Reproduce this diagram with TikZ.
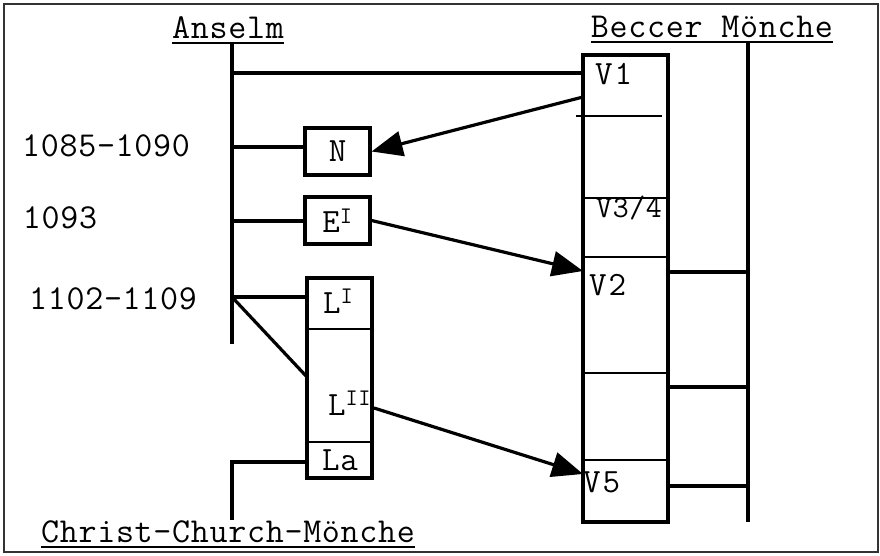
\documentclass[tikz,border=0pt]{standalone}
\usepackage{fontspec}
\setmainfont{Latin Modern Mono}[LetterSpace=2]
\usetikzlibrary{arrows.meta,calc}
\begin{document}
\begin{tikzpicture}[x=1pt,y=-1pt,
 thickline/.style={line width=3.2pt},
 thinline/.style={line width=1.6pt},
 lab/.style={font=\fontsize{35}{38}\selectfont, inner sep=0pt, anchor=base},
 inlab/.style={font=\fontsize{34}{36}\selectfont, inner sep=0pt, anchor=base west},
 boxed/.style={draw, line width=3.2pt, inner sep=0pt, minimum width=65pt, minimum height=47pt, font=\fontsize{34}{36}\selectfont},
 arr/.style={line width=3.2pt, -{Triangle[length=31pt,width=25pt]}},
]
\useasboundingbox (0,0) rectangle (880,556);
\draw[line width=1.6pt, black!80] (4,4) rectangle (878,552);

% headings
\node[lab] (anselm) at (228,39) {Anselm};
\node[lab] (beccer) at (712,38) {Beccer Mönche};
\node[lab] (christ) at (228,542) {Christ-Church-Mönche};
\draw[thinline] ([yshift=-4pt]anselm.base west) -- ([yshift=-4pt]anselm.base east);
\draw[thinline] ([yshift=-4pt]beccer.base west) -- ([yshift=-4pt]beccer.base east);
\draw[thinline] ([yshift=-5pt]christ.base west) -- ([yshift=-5pt]christ.base east);

% years
\node[lab] (y1) at (106,157) {1085-1090};
\node[lab] (y2) at (60,228) {1093};
\node[lab] (y3) at (113,309) {1102-1109};

% Anselm spine
\coordinate (a0) at (232,43);
\coordinate (a1) at (232,344);
\draw[thickline] (a0) -- (a1);

% boxes N, E
\node[boxed] (N) at (337.5,151.5) {N};
\node[boxed] (E) at (337.5,220.5) {E\textsuperscript{I}};

% L box
\node[draw, line width=3.2pt, inner sep=0pt, minimum width=65pt, minimum height=200pt] (L) at (339.5,378) {};
\draw[thinline] (L.west |- 0,329) -- (L.east |- 0,329);
\draw[thinline] (L.west |- 0,442) -- (L.east |- 0,442);
\node[inlab] (LI) at (323,313) {L\textsuperscript{I}};
\node[inlab] (LII) at (328,415) {L\textsuperscript{II}};
\node[inlab] (La) at (322,470) {La};

% Beccer box
\node[draw, line width=3.2pt, inner sep=0pt, minimum width=85pt, minimum height=467pt] (B) at (625.5,288.5) {};
\draw[thinline] (576,116) -- (662,116);
\draw[thinline] (B.west |- 0,198) -- (B.east |- 0,198);
\draw[thinline] (B.west |- 0,257) -- (B.east |- 0,257);
\draw[thinline] (B.west |- 0,373) -- (B.east |- 0,373);
\draw[thinline] (B.west |- 0,460) -- (B.east |- 0,460);
\node[inlab] (V1) at (595,85) {V\kern2pt1};
\node[inlab, font=\fontsize{31}{33}\selectfont] (V34) at (596,217) {V3/4};
\node[inlab] (V2) at (589,295) {V\kern2pt2};
\node[inlab] (V5) at (583,492) {V\kern2pt5};

% Beccer spine
\coordinate (b0) at (748,42);
\coordinate (b1) at (748,522);
\draw[thickline] (b0) -- (b1);
\foreach \yy in {272,387,486} {
  \draw[thickline] (B.east |- 0,\yy) -- (b0 |- 0,\yy);
}

% connectors from Anselm spine
\coordinate (s0) at (232,73);
\coordinate (s1) at (232,147);
\coordinate (s2) at (232,221);
\coordinate (s3) at (232,297);
\coordinate (d) at (307,377);
\draw[thickline] (s0) -- (s0 -| B.west);
\draw[thickline] (s1) -- (s1 -| N.west);
\draw[thickline] (s2) -- (s2 -| E.west);
\draw[thickline] (s3) -- (s3 -| L.west);
\draw[thickline] (s3) -- (d);

% La to Christ-Church
\coordinate (c0) at (232,462);
\coordinate (c1) at (232,520);
\draw[thickline] (c0 -| L.west) -- (c0) -- (c1);

% arrows
\coordinate (p1) at (583,97);
\coordinate (p2) at (583,271);
\coordinate (p3) at (583,474);
\coordinate (q3) at (374,408);
\draw[arr] (p1) -- (N.east);
\draw[arr] (E.east) -- (p2);
\draw[arr] (q3) -- (p3);
\end{tikzpicture}
\end{document}
